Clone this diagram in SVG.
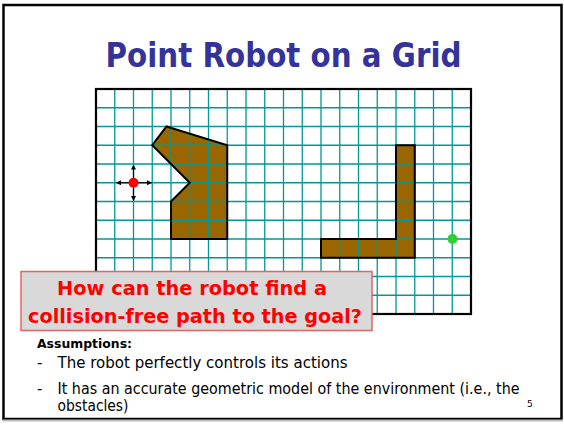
<svg xmlns="http://www.w3.org/2000/svg" width="564" height="424" viewBox="0 0 564 424">
<defs>
<style>
.obs{fill:#996600;stroke:none}
.obsline{fill:none;stroke:#000;stroke-width:2;stroke-linejoin:miter}
.grid{fill:none;stroke:#009999;stroke-width:1.3}
.arr{stroke:#000;stroke-width:1.2;fill:none;marker-end:url(#ah)}
.body{font-family:"DejaVu Sans","Liberation Sans",sans-serif;fill:#000}
</style>
<marker id="ah" viewBox="0 0 10 10" refX="9" refY="5" markerWidth="5" markerHeight="5" markerUnits="userSpaceOnUse" orient="auto">
<path d="M0 0L10 5L0 10Z" fill="#000"/>
</marker>
</defs>
<rect x="0" y="0" width="564" height="424" fill="#fff"/>
<g id="frame">
<rect x="3.5" y="5" width="558" height="414" fill="none" stroke="#000" stroke-width="2.5"/>
<line x1="3" y1="420.5" x2="563" y2="420.5" stroke="#bbb" stroke-width="2"/>
</g>
<g id="title">
<text x="283.5" y="66.7" text-anchor="middle" font-family="'DejaVu Sans','Liberation Sans',sans-serif" font-weight="bold" font-size="33" fill="#333399" textLength="356" lengthAdjust="spacingAndGlyphs">Point Robot on a Grid</text>
</g>
<g id="grid">
<rect x="96" y="89" width="375" height="225" fill="#fff"/>
<path class="obs" d="M166.5 126.5L227.25 145.25V239H171V201.5L189.75 182.75L152.25 145.25Z"/>
<path class="obs" d="M396 145.25H414.75V257.75H321V239H396Z"/>
<path class="grid" d="M114.75 89V314M133.5 89V314M152.25 89V314M171 89V314M189.75 89V314M208.5 89V314M227.25 89V314M246 89V314M264.75 89V314M283.5 89V314M302.25 89V314M321 89V314M339.75 89V314M358.5 89V314M377.25 89V314M396 89V314M414.75 89V314M433.5 89V314M452.25 89V314M96 107.75H471M96 126.5H471M96 145.25H471M96 164H471M96 182.75H471M96 201.5H471M96 220.25H471M96 239H471M96 257.75H471M96 276.5H471M96 295.25H471"/>
<rect x="96" y="89" width="375" height="225" fill="none" stroke="#000" stroke-width="2.2"/>
</g>
<g id="obstacle1">
<path class="obsline" d="M166.5 126.5L227.25 145.25V239H171V201.5L189.75 182.75L152.25 145.25Z"/>
</g>
<g id="obstacle2">
<path class="obsline" d="M396 145.25H414.75V257.75H321V239H396Z"/>
</g>
<g id="connectors">
<line class="arr" x1="133.5" y1="182.75" x2="151.5" y2="182.75"/>
<line class="arr" x1="133.5" y1="182.75" x2="116.5" y2="182.75"/>
<line class="arr" x1="133.5" y1="182.75" x2="133.5" y2="165"/>
<line class="arr" x1="133.5" y1="182.75" x2="133.5" y2="200.5"/>
</g>
<g id="robot">
<circle cx="133.5" cy="182.75" r="5" fill="#ff0000"/>
</g>
<g id="goal">
<circle cx="452.5" cy="239" r="5" fill="#33cc33"/>
</g>
<g id="callout">
<rect x="21" y="271.5" width="351" height="59" fill="#d9d9d9" stroke="#e06666" stroke-width="1.5"/>
<text x="192" y="295" text-anchor="middle" font-family="'DejaVu Sans','Liberation Sans',sans-serif" font-weight="bold" font-size="20" fill="#ff0000" textLength="270" lengthAdjust="spacingAndGlyphs">How can the robot find a</text>
<text x="195" y="322.5" text-anchor="middle" font-family="'DejaVu Sans','Liberation Sans',sans-serif" font-weight="bold" font-size="20" fill="#ff0000" textLength="334" lengthAdjust="spacingAndGlyphs">collision-free path to the goal?</text>
</g>
<g id="assumptions">
<text class="body" x="37" y="347.5" font-weight="bold" font-size="13" textLength="95" lengthAdjust="spacingAndGlyphs">Assumptions:</text>
<text class="body" x="37" y="368" font-size="15">-</text>
<text class="body" x="57.5" y="368" font-size="15" textLength="290" lengthAdjust="spacingAndGlyphs">The robot perfectly controls its actions</text>
<text class="body" x="37" y="394" font-size="15">-</text>
<text class="body" x="57.5" y="394" font-size="15" textLength="462" lengthAdjust="spacingAndGlyphs">It has an accurate geometric model of the environment (i.e., the</text>
<text class="body" x="57.5" y="411" font-size="15" textLength="71" lengthAdjust="spacingAndGlyphs">obstacles)</text>
<text class="body" x="527" y="407" font-size="9">5</text>
</g>
</svg>
